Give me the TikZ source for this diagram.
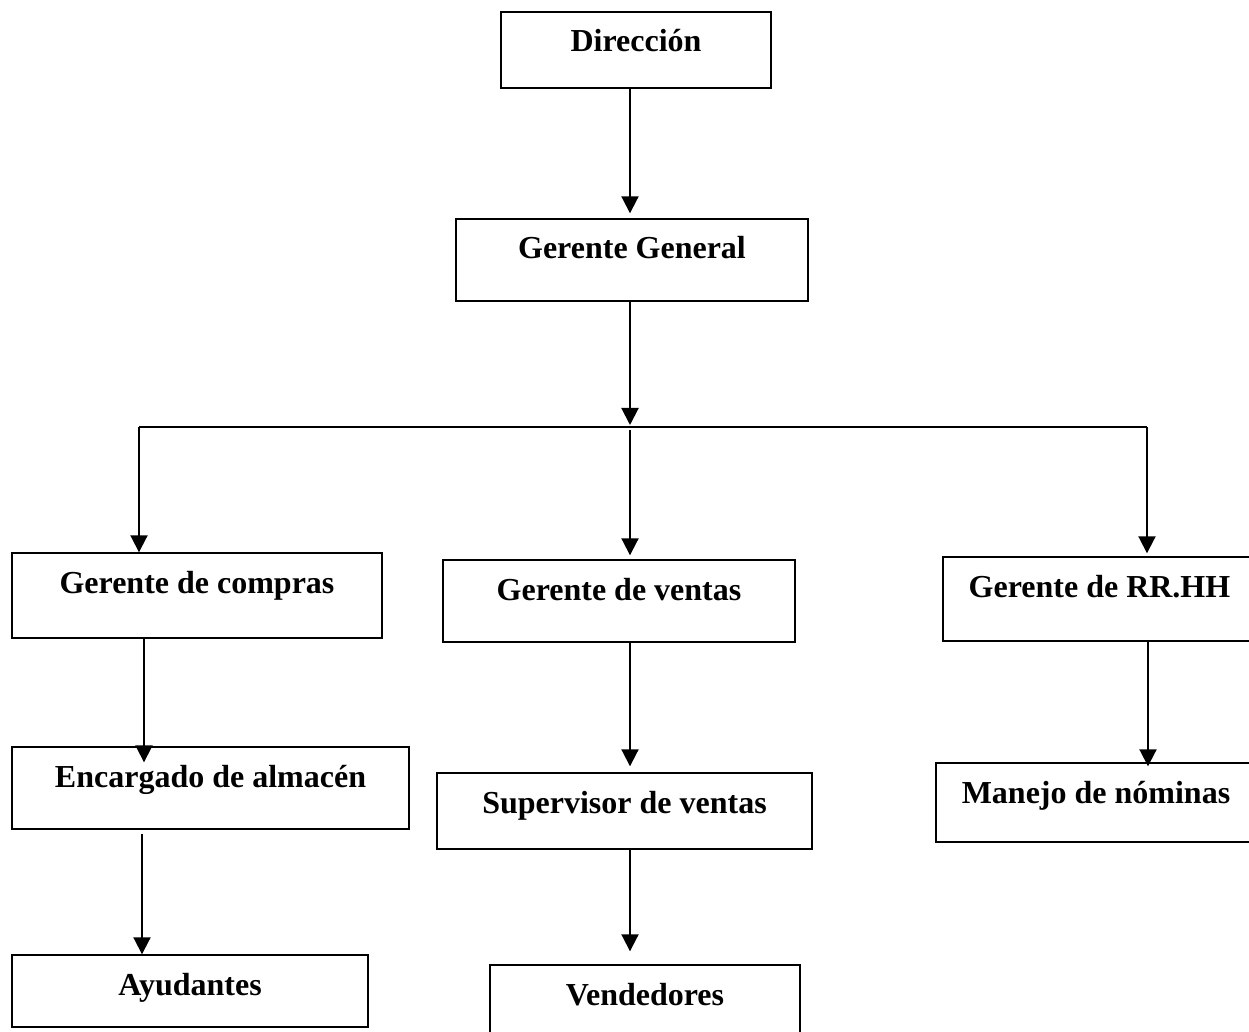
\documentclass[tikz,border=0pt]{standalone}
\usepackage{fontspec}
\setmainfont{Liberation Serif}
\usetikzlibrary{arrows.meta}
\begin{document}
\begin{tikzpicture}[
x=0.5pt,y=-0.5pt,
every node/.style={draw,line width=0.7pt,inner sep=0pt,anchor=base,text height=20pt,font=\bfseries\fontsize{16}{19}\selectfont},
flecha/.style={line width=1pt,-{Triangle[length=8.5pt,width=8.5pt]}},
linea/.style={line width=0.9pt}
]
\useasboundingbox (0,0) rectangle (1249,1032);
\node[minimum width=135pt,text depth=18pt] (dir) at (636,52) {Dirección};
\node[minimum width=176pt,text depth=21pt] (gg) at (632,259) {Gerente General};
\node[minimum width=185pt,text depth=22.5pt] (compras) at (197,593) {Gerente de compras};
\node[minimum width=176pt,text depth=21pt] (ventas) at (619,600) {Gerente de ventas};
\node[minimum width=156.5pt,text depth=22pt] (rrhh) at (1099.5,597) {Gerente de RR.HH};
\node[minimum width=198.5pt,text depth=21pt] (enc) at (210.5,787) {Encargado de almacén};
\node[minimum width=187.5pt,text depth=18pt] (sup) at (624.5,813) {Supervisor de ventas};
\node[minimum width=160pt,text depth=19.5pt] (nom) at (1096,803) {Manejo de nóminas};
\node[minimum width=178pt,text depth=16pt] (ayud) at (190,995) {Ayudantes};
\node[minimum width=155pt,text depth=20pt] (vend) at (645,1005) {Vendedores};
\coordinate (bus) at (630,427);
\coordinate (busizq) at (139,427);
\coordinate (busder) at (1147,427);
\coordinate (c1) at (144,0);
\coordinate (c2) at (142,0);
\coordinate (c3) at (1148,0);
\draw[flecha,shorten >=2.5pt] (dir.south -| bus) -- (gg.north -| bus);
\draw[flecha,shorten >=1pt] (gg.south -| bus) -- (bus);
\draw[linea] (busizq) -- (busder);
\draw[flecha] (busizq) -- (compras.north -| busizq);
\draw[flecha,shorten <=1.5pt,shorten >=2pt] (bus) -- (ventas.north -| bus);
\draw[flecha,shorten >=1.5pt] (busder) -- (rrhh.north -| busder);
\draw[flecha,shorten >=-8pt] (compras.south -| c1) -- (enc.north -| c1);
\draw[flecha,shorten <=2pt] (enc.south -| c2) -- (ayud.north -| c2);
\draw[flecha,shorten >=3pt] (ventas.south -| bus) -- (sup.north -| bus);
\draw[flecha,shorten >=6.5pt] (sup.south -| bus) -- (vend.north -| bus);
\draw[flecha,shorten >=-2pt] (rrhh.south -| c3) -- (nom.north -| c3);
\end{tikzpicture}
\end{document}
